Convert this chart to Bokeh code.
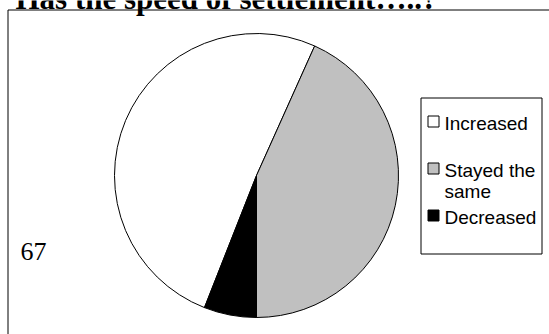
import math
from bokeh.plotting import figure
from bokeh.models import Range1d, ColumnDataSource
from bokeh.core.properties import value
from bokeh.embed import file_html
from bokeh.resources import INLINE

# ---- data ----
categories = ["Increased", "Stayed the same", "Decreased"]
counts = [34, 29, 4]
colors = ["#FFFFFF", "#C0C0C0", "#000000"]
legend_lines = [["Increased"], ["Stayed the", "same"], ["Decreased"]]
title_text = "Has the speed of settlement\u2026..?"
n_label = "67"

W, H = 549, 334
p = figure(width=W, height=H, output_backend="svg", toolbar_location=None,
           x_range=Range1d(0, W), y_range=Range1d(0, H),
           x_axis_type=None, y_axis_type=None, min_border=0)
p.grid.visible = False
p.outline_line_color = None
p.background_fill_color = "white"
p.border_fill_color = "white"

def Y(py):
    return H - py

BASE_K = 0.38  # compensation for the renderer's baseline offset

def text_at(x, baseline_px, txt, font, size, bold=False):
    p.text(x=[x], y=[Y(baseline_px - BASE_K * size)], text=[txt],
           text_font=value(font), text_font_style="bold" if bold else "normal",
           text_font_size=f"{size}px", text_baseline="alphabetic",
           text_align="left", text_color="black")

# outer chart border (extends beyond the window at right and bottom)
p.quad(left=[7.5], right=[W + 20], top=[Y(9.5)], bottom=[-20],
       fill_color=None, line_color="black", line_width=1)

# pie
cx, cy, r = 256, Y(175), 142
first_angle = 201.5  # clockwise from 12 o'clock
total = sum(counts)
starts, ends = [], []
acc = first_angle
for c in counts:
    a = c / total * 360.0
    starts.append(math.radians(90 - acc))
    ends.append(math.radians(90 - (acc + a)))
    acc += a
src = ColumnDataSource(dict(start=starts, end=ends, color=colors, cat=categories))
p.wedge(x=cx, y=cy, radius=r, start_angle="start", end_angle="end",
        direction="clock", fill_color="color", line_color="black",
        line_width=1, source=src)

# title (partially cut at top like the reference)
text_at(15, 10, title_text, "Liberation Serif", 31, bold=True)

# n label
text_at(20, 261, n_label, "Liberation Serif", 26)

# legend box
p.quad(left=[420.5], right=[541.5], top=[Y(97.5)], bottom=[Y(253.5)],
       fill_color="white", line_color="black", line_width=1)
sq_tops = [115, 162, 209]
base0 = [130, 177, 224]
for i, (lines, col) in enumerate(zip(legend_lines, colors)):
    t = sq_tops[i]
    p.quad(left=[427.5], right=[438.5], top=[Y(t + 0.5)], bottom=[Y(t + 11.5)],
           fill_color=col, line_color="black", line_width=1)
    for j, ln in enumerate(lines):
        text_at(444, base0[i] + 21 * j, ln, "Liberation Sans", 19)

open("out.html", "w").write(file_html(p, INLINE))
